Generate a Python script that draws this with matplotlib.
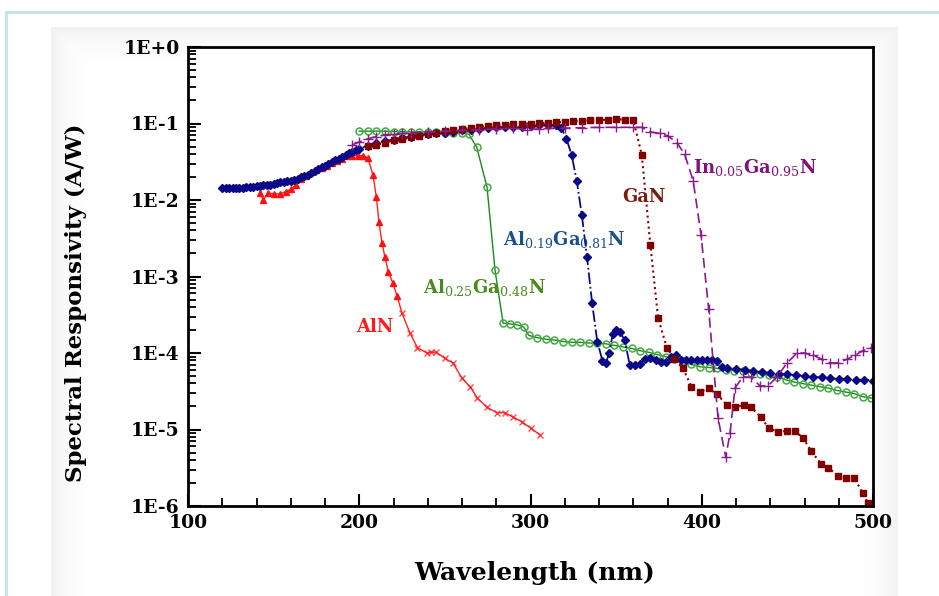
import numpy as np
import matplotlib
matplotlib.use("Agg")
import matplotlib.pyplot as plt
from matplotlib.ticker import FixedLocator, MultipleLocator, NullFormatter

plt.rcParams['mathtext.fontset'] = 'custom'
plt.rcParams['mathtext.rm'] = 'DejaVu Serif'

# ---- data (wavelength in nm, log10 of responsivity in A/W) ----
aln_nm = [142, 144, 146.5, 150, 154, 157, 160, 163, 166, 169, 172, 175, 178, 181, 184,
          187, 190, 193, 196, 199, 202, 205, 208, 210, 211.5, 213.3, 215, 217, 219.7,
          222, 225, 229.6, 234, 239.5, 242, 245, 250, 254.7, 260, 264.7, 269, 274.6,
          280.4, 285, 290, 295, 300, 305.5]
aln_log = [-1.91, -2.00, -1.91, -1.92, -1.92, -1.89, -1.86, -1.80, -1.72, -1.68, -1.64,
           -1.61, -1.58, -1.55, -1.52, -1.49, -1.46, -1.43, -1.42, -1.42, -1.42, -1.45,
           -1.67, -1.96, -2.29, -2.56, -2.75, -2.94, -3.09, -3.25, -3.48, -3.74, -3.93,
           -4.00, -3.99, -3.99, -4.07, -4.13, -4.33, -4.44, -4.59, -4.71, -4.78, -4.78,
           -4.84, -4.90, -4.98, -5.07]
aln_n_triangles = 30

al25_nm = [200, 205, 210, 215, 220, 225, 230, 235, 240, 245, 250, 255, 260, 264, 268.6,
           274.6, 279.3, 284, 288, 292, 296, 299, 304, 309, 314, 319, 324, 329, 334, 339,
           344, 349, 354, 359, 364, 369, 374, 379, 384, 389, 394, 399, 404, 409, 414, 419,
           424, 429, 434, 439, 444, 449, 454, 459, 464, 469, 474, 479, 484, 489, 494, 499]
al25_log = [-1.10, -1.10, -1.10, -1.10, -1.105, -1.105, -1.11, -1.11, -1.11, -1.115,
            -1.12, -1.12, -1.125, -1.14, -1.31, -1.83, -2.92, -3.61, -3.62, -3.63, -3.66,
            -3.77, -3.80, -3.82, -3.83, -3.85, -3.86, -3.86, -3.87, -3.87, -3.88, -3.90,
            -3.92, -3.94, -3.97, -3.99, -4.02, -4.05, -4.08, -4.11, -4.15, -4.18, -4.19,
            -4.20, -4.22, -4.23, -4.24, -4.26, -4.27, -4.29, -4.31, -4.35, -4.38, -4.40,
            -4.42, -4.44, -4.46, -4.49, -4.51, -4.53, -4.57, -4.59]

al19_nm = [120, 122, 124, 126, 128, 130, 132, 134, 136, 138, 140, 142, 144, 146, 148, 150,
           152, 154, 156, 158, 160, 162, 164, 166, 168, 170, 172, 174, 176, 178, 180, 182,
           184, 186, 188, 190, 192, 194, 196, 198, 200, 205, 210, 215, 220, 225, 230, 235,
           240, 245, 250, 255, 260, 265, 270, 275, 280, 285, 290, 295, 300, 305, 310, 315,
           318, 321, 324, 327, 330, 333, 336, 339, 342, 344, 346, 348, 350, 352, 355, 358,
           361, 364, 367, 370, 373, 376, 379, 382, 385, 388, 391, 394, 397, 400, 403, 406,
           409, 412, 415, 420, 425, 430, 435, 440, 445, 450, 455, 460, 465, 470, 475, 480,
           485, 490, 495, 500]
al19_log = [-1.84, -1.84, -1.84, -1.84, -1.84, -1.84, -1.84, -1.835, -1.83, -1.825, -1.82,
            -1.815, -1.81, -1.805, -1.80, -1.79, -1.78, -1.77, -1.76, -1.755, -1.75, -1.735,
            -1.72, -1.705, -1.69, -1.67, -1.65, -1.625, -1.60, -1.575, -1.55, -1.525, -1.50,
            -1.48, -1.46, -1.435, -1.41, -1.39, -1.37, -1.35, -1.33, -1.29, -1.26, -1.23,
            -1.21, -1.19, -1.17, -1.15, -1.14, -1.13, -1.12, -1.11, -1.09, -1.08, -1.07,
            -1.06, -1.05, -1.05, -1.045, -1.04, -1.03, -1.02, -1.02, -1.02, -1.06, -1.20,
            -1.41, -1.75, -2.20, -2.75, -3.35, -3.85, -4.10, -4.13, -4.00, -3.75, -3.70,
            -3.72, -3.83, -4.16, -4.16, -4.14, -4.08, -4.07, -4.09, -4.12, -4.12, -4.05,
            -4.03, -4.09, -4.09, -4.09, -4.09, -4.09, -4.09, -4.09, -4.10, -4.18, -4.20,
            -4.21, -4.22, -4.24, -4.25, -4.26, -4.27, -4.28, -4.29, -4.30, -4.31, -4.32,
            -4.33, -4.34, -4.34, -4.35, -4.35, -4.36]

gan_nm = [205, 210, 215, 220, 225, 230, 235, 240, 245, 250, 255, 260, 265, 270, 275, 280,
          285, 290, 295, 300, 305, 310, 315, 320, 325, 330, 335, 340, 345, 350, 355, 360,
          365, 370, 374.5, 379.6, 384, 389, 394, 399, 404, 409, 414.7, 419.4, 424.5, 429,
          434.6, 439, 444.5, 449.8, 454.4, 459, 464, 469.6, 474, 479.6, 484, 489, 494, 497]
gan_log = [-1.30, -1.28, -1.25, -1.22, -1.20, -1.18, -1.16, -1.14, -1.12, -1.10, -1.085,
           -1.07, -1.06, -1.045, -1.03, -1.025, -1.02, -1.01, -1.005, -1.00, -0.995, -0.99,
           -0.985, -0.98, -0.97, -0.967, -0.96, -0.955, -0.95, -0.945, -0.95, -0.955, -1.41,
           -2.59, -3.54, -3.93, -4.08, -4.20, -4.44, -4.51, -4.46, -4.54, -4.68, -4.71,
           -4.68, -4.71, -4.84, -4.98, -5.03, -5.02, -5.02, -5.11, -5.28, -5.45, -5.50,
           -5.61, -5.63, -5.63, -5.83, -5.96]

ingan_nm = [196, 200, 205, 210, 215, 220, 225, 230, 240, 250, 260, 270, 280, 290, 298, 305,
            310, 320, 330, 340, 350, 360, 365, 370, 375.6, 380, 385.5, 390, 395, 399.6, 404,
            409.5, 414, 416.5, 419.4, 424, 429, 434, 438.7, 444, 449.8, 455.6, 460, 465,
            470, 475, 479.6, 484.8, 489.5, 494, 499]
ingan_log = [-1.28, -1.24, -1.20, -1.17, -1.15, -1.14, -1.13, -1.12, -1.11, -1.10, -1.09,
             -1.08, -1.07, -1.06, -1.08, -1.07, -1.065, -1.06, -1.055, -1.05, -1.05, -1.05,
             -1.05, -1.11, -1.13, -1.16, -1.25, -1.40, -1.75, -2.46, -3.42, -4.85, -5.36,
             -5.05, -4.46, -4.31, -4.32, -4.43, -4.43, -4.31, -4.13, -4.00, -4.00, -4.03,
             -4.08, -4.13, -4.13, -4.08, -4.03, -3.97, -3.93]

x_ticks = [100, 200, 300, 400, 500]
y_decades = [0, -1, -2, -3, -4, -5, -6]
y_tick_labels = ['1E+0', '1E-1', '1E-2', '1E-3', '1E-4', '1E-5', '1E-6']

# ---- figure ----
W, H = 939, 596
fig = plt.figure(figsize=(W / 100, H / 100), dpi=100)
fig.patch.set_facecolor('white')

# soft gray card behind the chart
bg = fig.add_axes([0, 0, 1, 1], zorder=-10)
bg.axis('off')
yy, xx = np.mgrid[0:H, 0:W]
d = np.minimum.reduce([xx - 50, 898 - xx, yy - 26]).astype(float)
shade = np.where(d > 0, 1 - 0.06 * np.exp(-d / 16.0), 1.0)
bg.imshow(shade, cmap='gray', vmin=0, vmax=1, extent=[0, W, H, 0], aspect='auto')
bg.set_xlim(0, W)
bg.set_ylim(H, 0)
bg.plot([6, 6], [12, H], color='#bfe3ea', lw=2)
bg.plot([6, W], [12, 12], color='#bfe3ea', lw=2)

ax = fig.add_axes([188 / W, 1 - 506 / H, 685 / W, 459 / H])
ax.set_facecolor('white')
ax.set_yscale('log')

p = lambda v: 10.0 ** np.asarray(v)

# AlN
ax.plot(aln_nm, p(aln_log), '-', color='#ff2020', lw=1)
ax.plot(aln_nm[:aln_n_triangles], p(aln_log[:aln_n_triangles]), '^', color='#ff1010',
        ms=4.5, ls='none')
ax.plot(aln_nm[aln_n_triangles:], p(aln_log[aln_n_triangles:]), 'x', color='#ff2020',
        ms=5, mew=1, ls='none', alpha=0.8)

# Al0.25Ga0.48N
ax.plot(al25_nm, p(al25_log), '-', color='#1a8a1a', lw=1, marker='o', ms=5,
        mfc='none', mec='#44aa44', mew=1.1)

# Al0.19Ga0.81N
ax.plot(al19_nm, p(al19_log), '-.', color='#0a0a88', lw=1.3, marker='D', ms=3.6,
        mfc='#0a0a88', mec='#0a0a88')

# GaN
ax.plot(gan_nm, p(gan_log), ':', color='#8b0000', lw=1.5, marker='s', ms=4.3,
        mfc='#800000', mec='#800000')

# In0.05Ga0.95N
ax.plot(ingan_nm, p(ingan_log), '--', color='#8a1a8a', lw=1.2, marker='+', ms=7,
        mew=1, dashes=(6, 3))

# labels on the curves
lab = dict(fontfamily='DejaVu Serif', fontweight='bold', fontsize=13, va='center')
ax.text(209, p(-3.66), 'AlN', color='#ff1a1a', ha='center', **lab)
ax.text(237, p(-3.15), r'Al$_{\mathrm{0.25}}$Ga$_{\mathrm{0.48}}$N', color='#4a8c1c',
        ha='left', **lab)
ax.text(284, p(-2.52), r'Al$_{\mathrm{0.19}}$Ga$_{\mathrm{0.81}}$N', color='#1d4f8c',
        ha='left', **lab)
ax.text(353.5, p(-1.96), 'GaN', color='#7b1c0c', ha='left', **lab)
ax.text(395, p(-1.57), r'In$_{\mathrm{0.05}}$Ga$_{\mathrm{0.95}}$N', color='#7f127f',
        ha='left', **lab)

ax.set_xlim(100, 500)
ax.set_ylim(1e-6, 1)
ax.xaxis.set_major_locator(FixedLocator(x_ticks))
ax.xaxis.set_minor_locator(MultipleLocator(20))
ax.yaxis.set_major_locator(FixedLocator(p(y_decades)))
ax.set_yticklabels(y_tick_labels)
ax.yaxis.set_minor_locator(FixedLocator([m * 10.0 ** k for k in range(-6, 0)
                                         for m in range(2, 10)]))
ax.yaxis.set_minor_formatter(NullFormatter())

tick_font = dict(family='DejaVu Serif', weight='bold', size=13.5)
for t in ax.get_xticklabels() + ax.get_yticklabels():
    t.set_fontproperties(tick_font)

ax.tick_params(axis='both', which='major', direction='in', length=9, width=1.5,
               top=False, right=False, pad=6)
ax.tick_params(axis='both', which='minor', direction='in', length=6, width=1.3,
               top=False, right=False)
for s in ax.spines.values():
    s.set_linewidth(2)

fig.text(535 / W, 1 - 573 / H, 'Wavelength (nm)', fontfamily='DejaVu Serif',
         fontweight='bold', fontsize=18, ha='center', va='center')
fig.text(76 / W, 1 - 303 / H, 'Spectral Responsivity (A/W)', fontfamily='DejaVu Serif',
         fontweight='bold', fontsize=16.5, ha='center', va='center', rotation=90)

fig.savefig('out.png', dpi=100)
